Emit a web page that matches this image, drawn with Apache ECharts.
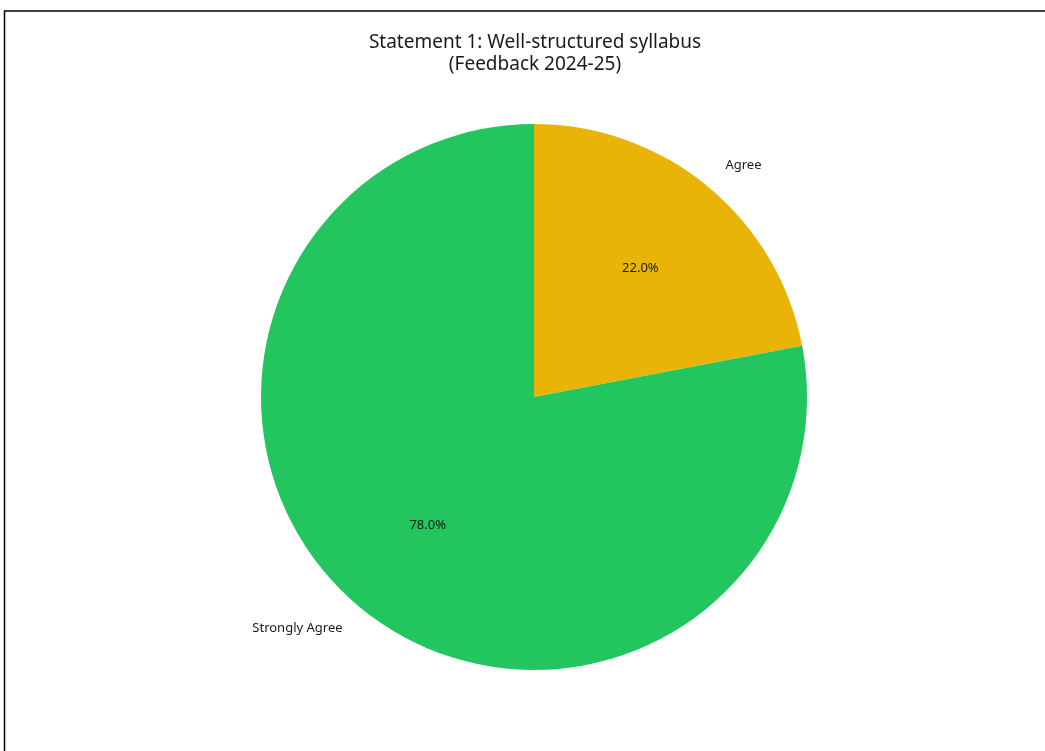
<!DOCTYPE html>
<html><head><meta charset="utf-8">
<script src="https://cdn.jsdelivr.net/npm/echarts@6/dist/echarts.min.js"></script>
<style>html,body{margin:0;padding:0;background:#fff}#c{width:1045px;height:751px}</style>
</head><body><div id="c"></div>
<script>
const categories = ['Agree', 'Strongly Agree'];
const values = [22, 78];
const colors = ['#EAB308', '#22C55E'];
const titleLines = ['Statement 1: Well-structured syllabus', '(Feedback 2024-25)'];

const FONT = 'Noto Sans';
const R = 273;
const center = [534, 397];
const data = categories.map((c, i) => ({ name: c, value: values[i], itemStyle: { color: colors[i] } }));
const pctData = categories.map((c, i) => ({ name: c, value: values[i] }));

const chart = echarts.init(document.getElementById('c'), null, { renderer: 'canvas' });
chart.setOption({
  animation: false,
  backgroundColor: '#fff',
  title: {
    text: titleLines.join('\n'),
    left: 530, top: 27, textAlign: 'center',
    textStyle: { fontFamily: FONT, fontSize: 19, fontWeight: 'normal', color: '#1a1a1a', lineHeight: 22 }
  },
  graphic: [{
    type: 'rect', shape: { x: 4.5, y: 11, width: 1200, height: 900 },
    style: { fill: 'none', stroke: '#000', lineWidth: 1.5 }, silent: true
  }],
  series: [{
    type: 'pie', center: center, radius: [0, R], startAngle: 90, clockwise: true,
    avoidLabelOverlap: false, silent: true,
    label: { show: true, position: 'outside', distanceToLabelLine: 0, fontFamily: FONT, fontSize: 13, color: '#1a1a1a' },
    labelLine: { show: false, length: R * 0.1, length2: 0 },
    data: data
  }, {
    type: 'pie', center: center, radius: [R * 0.6 - 10, R * 0.6 + 10], startAngle: 90, clockwise: true,
    avoidLabelOverlap: false, silent: true,
    itemStyle: { color: 'rgba(0,0,0,0)' },
    label: { show: true, position: 'inside', fontFamily: FONT, fontSize: 13, color: '#1a1a1a',
      formatter: p => p.percent.toFixed(1) + '%' },
    labelLine: { show: false },
    data: pctData
  }]
});
</script></body></html>
